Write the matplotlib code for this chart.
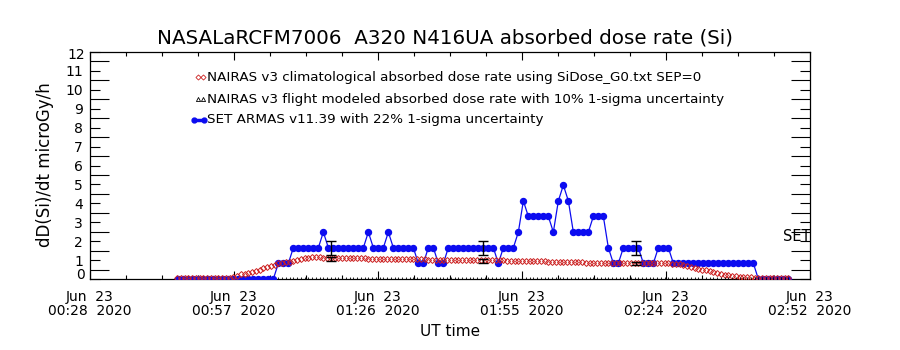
import numpy as np
import matplotlib
matplotlib.use('Agg')
import matplotlib.pyplot as plt
from matplotlib.ticker import FixedLocator
import matplotlib.transforms as mtransforms

plt.rcParams['font.family'] = ['DejaVu Sans']

# ---------------- data ----------------
# x axis span in UT minutes of day
x_start = 28.33
x_end = 172.33
tick_labels = ['Jun  23\n00:28  2020', 'Jun  23\n00:57  2020', 'Jun  23\n01:26  2020',
               'Jun  23\n01:55  2020', 'Jun  23\n02:24  2020', 'Jun  23\n02:52  2020']
y_tick_values = list(range(13))

# SET ARMAS v11.39 absorbed dose rate (1-min cadence starting 00:46 UT)
set_start = 46.0
set_step = 1.0
set_vals = [0.0] * 20 + [0.83] * 3 + [1.65] * 6 + [2.48] + [1.65] * 8 + [2.48] + \
    [1.65] * 3 + [2.48] + [1.65] * 5 + [0.83] * 2 + [1.65] * 2 + [0.83] * 2 + \
    [1.65] * 10 + [0.83] + [1.65] * 3 + [2.48, 4.13] + [3.31] * 5 + \
    [2.48, 4.13, 4.96, 4.13] + [2.48] * 4 + [3.31] * 3 + [1.65] + [0.83] * 2 + \
    [1.65] * 4 + [0.83] * 3 + [1.65] * 3 + [0.83] * 17 + [0.0] * 7

# NAIRAS v3 climatological absorbed dose rate (45-s cadence)
clim_start = 45.75
clim_step = 0.75
clim_vals = [0.06] * 15 + [
    0.12, 0.18, 0.24, 0.29, 0.34, 0.39, 0.44, 0.50, 0.56, 0.63, 0.69, 0.75, 0.82,
    0.86, 0.89, 0.91, 0.95, 1.00, 1.05, 1.10, 1.13,
    1.14, 1.14, 1.14, 1.13, 1.13, 1.13, 1.12, 1.12, 1.12, 1.11, 1.11, 1.10, 1.10,
    1.09, 1.09,
    1.08, 1.08, 1.08, 1.07, 1.07, 1.07, 1.07, 1.06, 1.06, 1.06, 1.05, 1.05, 1.05,
    1.04, 1.04, 1.04, 1.03, 1.03, 1.03, 1.03, 1.02, 1.02, 1.02, 1.01, 1.01, 1.01,
    1.01, 1.00, 1.00, 1.00,
    1.00, 0.99, 0.99, 0.99, 0.98, 0.98, 0.98, 0.97, 0.97, 0.96, 0.96, 0.96, 0.95,
    0.95, 0.94, 0.94, 0.93, 0.93, 0.92, 0.92, 0.91, 0.91, 0.90, 0.90, 0.89, 0.89,
    0.88, 0.88, 0.87, 0.87, 0.86, 0.86, 0.85,
    0.85, 0.85, 0.85, 0.84, 0.84, 0.84, 0.84, 0.84, 0.83, 0.83, 0.83, 0.83, 0.83,
    0.83, 0.82, 0.82, 0.82, 0.82, 0.81, 0.81,
    0.79, 0.74, 0.69, 0.64, 0.59, 0.54, 0.50, 0.45, 0.40, 0.35, 0.31, 0.27, 0.23,
    0.20, 0.17, 0.14, 0.12, 0.10, 0.09, 0.08, 0.07] + [0.06] * 9

# sample points carrying 1-sigma uncertainty bars
err_times = [76.5, 107.0, 137.5]
set_err_vals = [1.65, 1.65, 1.65]
flight_vals = [1.08, 0.94, 0.81]
set_sigma = 0.22
flight_sigma = 0.10

# NAIRAS v3 flight modeled floor markers
floor_start = 66.0
floor_step = 0.75
floor_count = 137

legend_texts = ['NAIRAS v3 climatological absorbed dose rate using SiDose_G0.txt SEP=0',
                'NAIRAS v3 flight modeled absorbed dose rate with 10% 1-sigma uncertainty',
                'SET ARMAS v11.39 with 22% 1-sigma uncertainty']

# ---------------- plot ----------------
BLUE = '#0c0cf0'
RED = '#cc2020'

fig = plt.figure(figsize=(9, 3.5), dpi=100)
ax = fig.add_axes([90 / 900, 1 - 279 / 350, 720 / 900, 227 / 350])

set_t = set_start + set_step * np.arange(len(set_vals))
clim_t = clim_start + clim_step * np.arange(len(clim_vals))
floor_t = floor_start + floor_step * np.arange(floor_count)

ax.plot(set_t, set_vals, color=BLUE, lw=0.9, marker='o', ms=4.3,
        mfc=BLUE, mec=BLUE, zorder=3)
ax.plot(clim_t, clim_vals, ls='none', marker='D', ms=3.0, mfc='none',
        mec=RED, mew=0.7, zorder=4)
ax.plot(floor_t, np.zeros(floor_count), ls='none', marker='|', ms=2.6,
        color='black', mew=0.6, zorder=5)

sv = np.array(set_err_vals)
fv = np.array(flight_vals)
ax.errorbar(err_times, sv, yerr=set_sigma * sv, fmt='none', ecolor='black',
            elinewidth=1.0, capsize=3.5, capthick=1.0, zorder=6)
ax.errorbar(err_times, fv, yerr=flight_sigma * fv, fmt='none', ecolor='black',
            elinewidth=1.0, capsize=3.5, capthick=1.0, zorder=6)

ax.set_xlim(x_start, x_end)
ax.set_ylim(0, 12)

major_x = x_start + (x_end - x_start) / 5 * np.arange(6)
minor_x = x_start + (x_end - x_start) / 20 * np.arange(21)
ax.xaxis.set_major_locator(FixedLocator(major_x))
ax.xaxis.set_minor_locator(FixedLocator(minor_x))
ax.set_xticklabels(tick_labels, fontsize=10, linespacing=0.95)
ax.tick_params(axis='x', which='major', direction='in', length=6, width=0.8,
               top=True, bottom=True, pad=8)
ax.tick_params(axis='x', which='minor', direction='in', length=3, width=0.8,
               top=True, bottom=True)

ax.yaxis.set_major_locator(FixedLocator(y_tick_values))
ax.yaxis.set_minor_locator(FixedLocator(np.arange(0.5, 12, 1.0)))
# end labels are drawn slightly inside the axis, as in the reference
ax.set_yticklabels([('' if v in (y_tick_values[0], y_tick_values[-1]) else str(v))
                    for v in y_tick_values], fontsize=10)
ax.tick_params(axis='y', which='major', direction='in', length=7, width=0.8,
               left=True, right=True, pad=5)
ax.tick_params(axis='y', which='minor', direction='in', length=14, width=0.8,
               left=True, right=True)
lab_tr = mtransforms.blended_transform_factory(ax.transAxes, ax.transData)
ax.text(-5 / 720, y_tick_values[0] + 0.22, str(y_tick_values[0]), transform=lab_tr,
        ha='right', va='center', fontsize=10)
ax.text(-5 / 720, y_tick_values[-1] - 0.17, str(y_tick_values[-1]), transform=lab_tr,
        ha='right', va='center', fontsize=10)

for sp in ax.spines.values():
    sp.set_linewidth(0.9)

# legend drawn in axes coordinates
ly = [(279 - 77) / 227, (279 - 99) / 227, (279 - 120) / 227]
tx = (207 - 90) / 720
for y, t in zip(ly, legend_texts):
    ax.text(tx, y, t, transform=ax.transAxes, fontsize=9.7, ha='left', va='center')
ax.plot([(198 - 90) / 720, (203 - 90) / 720], [ly[0]] * 2, transform=ax.transAxes,
        ls='none', marker='D', ms=2.6, mfc='none', mec=RED, mew=0.6, clip_on=False)
ax.plot([(198 - 90) / 720, (203 - 90) / 720], [ly[1]] * 2, transform=ax.transAxes,
        ls='none', marker='^', ms=3.0, mfc='none', mec='black', mew=0.6, clip_on=False)
ax.plot([(194 - 90) / 720, (204 - 90) / 720], [ly[2]] * 2, transform=ax.transAxes,
        color=BLUE, lw=2.5, marker='o', ms=3.5, mfc=BLUE, mec=BLUE, clip_on=False)

ax.text(28.33 + (783 - 90) / 5, 2.27, 'SET', fontsize=10.5, ha='left', va='center',
        clip_on=False)

fig.text(445 / 900, 1 - 38 / 350, 'NASALaRCFM7006  A320 N416UA absorbed dose rate (Si)',
         ha='center', va='center', fontsize=14.3)
fig.text(45 / 900, 1 - 165 / 350, 'dD(Si)/dt microGy/h', rotation=90,
         ha='center', va='center', fontsize=12)
fig.text(450 / 900, 1 - 332 / 350, 'UT time', ha='center', va='center', fontsize=11)

fig.savefig('out.png', dpi=100)
